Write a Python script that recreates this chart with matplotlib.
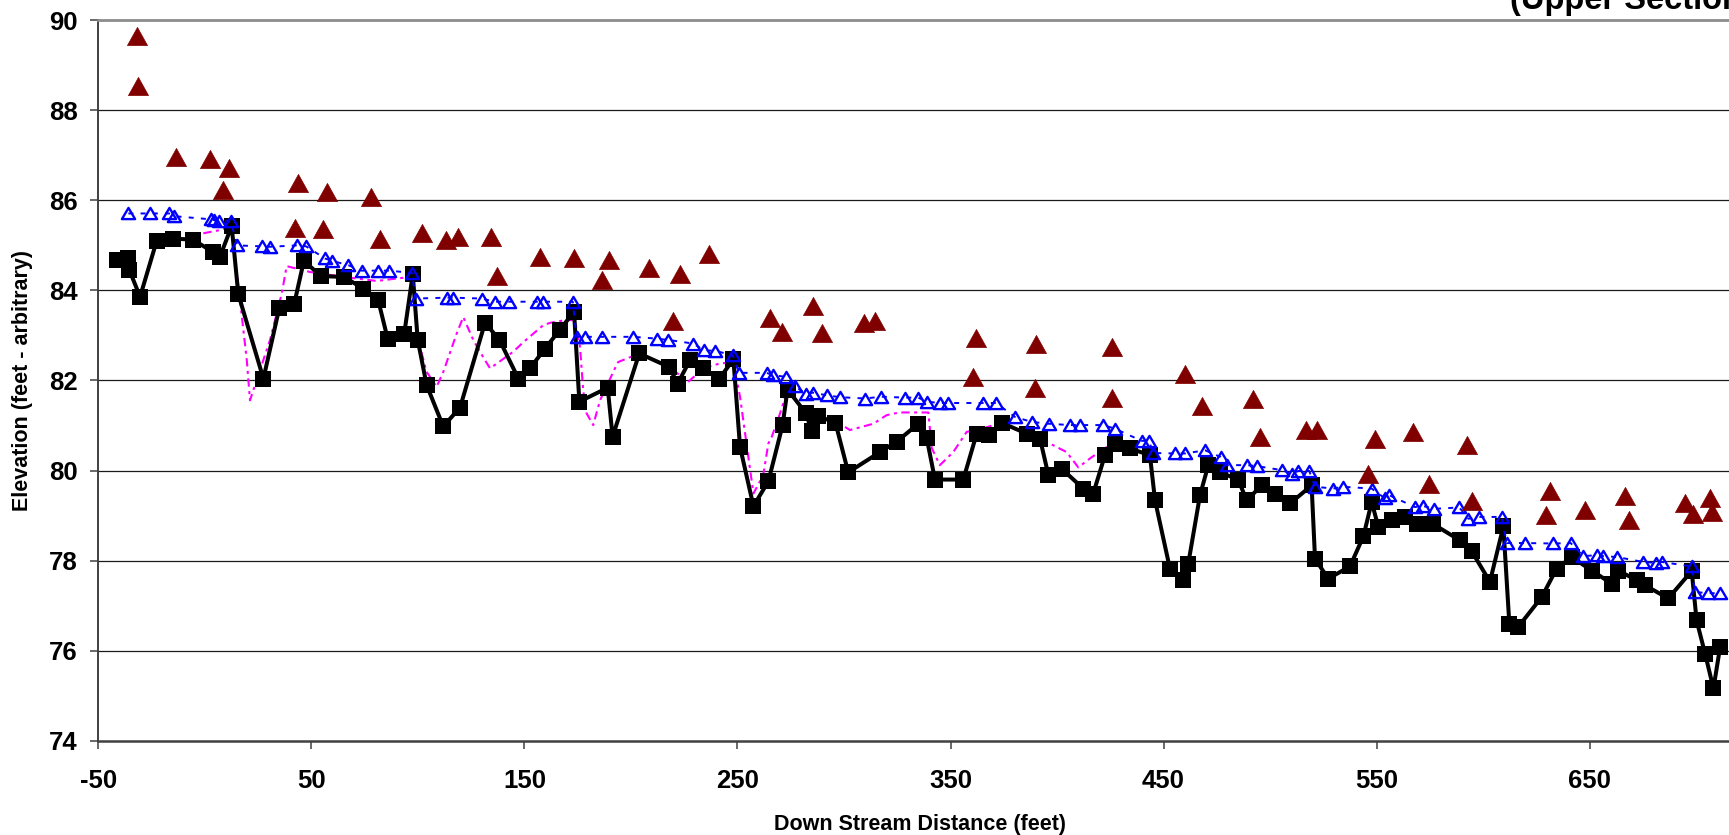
import matplotlib
matplotlib.use("Agg")
import matplotlib.pyplot as plt
from matplotlib.path import Path

plt.rcParams['font.family'] = ['Liberation Sans', 'DejaVu Sans']
plt.rcParams['font.weight'] = 'bold'
plt.rcParams['lines.scale_dashes'] = False

# ---- data ----
thalweg_x = [-41.4, -36.2, -35.4, -30.4, -22.6, -14.8, -5.7, 3.7, 7.1, 12.6, 15.7, 27.5, 35.0, 41.9,
             46.5, 54.4, 65.3, 74.4, 81.4, 85.8, 93.6, 97.6, 99.9, 104.1, 111.9, 119.8, 131.5, 138.2,
             147.2, 152.6, 159.7, 166.7, 173.3, 175.8, 189.1, 191.4, 203.9, 218.0, 221.9, 227.7, 234.0,
             241.5, 248.1, 251.2, 257.5, 264.5, 271.2, 273.5, 282.2, 284.8, 288.0, 296.0, 302.0, 316.9,
             324.7, 334.9, 338.8, 342.7, 356.0, 362.3, 368.2, 374.0, 385.8, 392.0, 395.9, 402.2, 412.3,
             417.0, 422.5, 427.2, 434.3, 443.6, 446.0, 453.0, 459.0, 461.6, 467.1, 471.0, 476.5, 485.1,
             489.0, 496.1, 502.3, 509.4, 519.5, 521.1, 527.3, 537.5, 543.8, 547.7, 550.8, 557.1, 563.3,
             568.8, 576.6, 589.1, 594.6, 603.2, 609.5, 612.3, 616.5, 627.5, 634.5, 641.6, 650.9, 660.3,
             663.5, 672.1, 676.0, 686.9, 697.9, 700.2, 704.2, 708.1, 711.2]
thalweg_y = [84.67, 84.71, 84.45, 83.86, 85.10, 85.15, 85.13, 84.86, 84.75, 85.43, 83.92, 82.04, 83.62, 83.69,
             84.66, 84.32, 84.30, 84.04, 83.78, 82.93, 83.04, 84.36, 82.91, 81.90, 80.98, 81.40, 83.28, 82.91,
             82.04, 82.27, 82.71, 83.13, 83.53, 81.53, 81.84, 80.75, 82.60, 82.30, 81.93, 82.45, 82.27,
             82.04, 82.47, 80.53, 79.21, 79.76, 81.01, 81.80, 81.27, 80.88, 81.21, 81.06, 79.96, 80.41,
             80.64, 81.04, 80.73, 79.80, 79.80, 80.82, 80.78, 81.06, 80.82, 80.71, 79.91, 80.04, 79.60,
             79.49, 80.34, 80.60, 80.49, 80.34, 79.34, 77.82, 77.58, 77.93, 79.45, 80.12, 79.97, 79.79,
             79.34, 79.67, 79.49, 79.27, 79.67, 78.04, 77.60, 77.87, 78.54, 79.30, 78.75, 78.90, 78.97,
             78.81, 78.81, 78.45, 78.21, 77.53, 78.76, 76.60, 76.53, 77.19, 77.82, 78.08, 77.78, 77.49,
             77.78, 77.56, 77.45, 77.16, 77.77, 76.67, 75.93, 75.16, 76.07]

water_x = [-35.9, -25.7, -16.7, -14.5, 2.7, 4.5, 6.5, 12.1, 15.3, 26.7, 30.6, 43.1, 47.5, 56.4, 59.5,
           67.4, 73.6, 81.4, 86.6, 97.1, 99.1, 113.5, 116.6, 129.9, 136.2, 142.9, 155.8, 158.9, 172.7,
           174.5, 178.4, 186.3, 201.1, 212.1, 217.6, 229.3, 234.3, 239.5, 247.8, 250.7, 263.7, 266.5,
           272.8, 277.0, 282.0, 285.5, 292.0, 298.1, 309.9, 317.2, 328.6, 334.9, 338.8, 345.1, 349.0,
           365.1, 371.4, 380.3, 388.1, 396.0, 406.1, 410.8, 421.7, 427.2, 439.7, 443.3, 444.9, 455.4,
           460.1, 469.5, 476.8, 479.6, 489.0, 493.7, 505.4, 510.1, 513.3, 518.4, 521.1, 529.7, 534.1,
           547.7, 554.0, 556.0, 568.0, 572.0, 577.1, 588.8, 593.1, 598.2, 608.7, 611.1, 619.7, 633.0,
           641.1, 647.0, 653.3, 656.4, 662.7, 675.2, 681.2, 683.8, 697.9, 699.4, 705.7, 711.2]
water_y = [85.71, 85.71, 85.71, 85.65, 85.58, 85.56, 85.55, 85.55, 85.00, 84.98, 84.97, 85.00, 84.98, 84.71, 84.66,
           84.56, 84.44, 84.44, 84.44, 84.39, 83.82, 83.84, 83.84, 83.82, 83.75, 83.75, 83.75, 83.75, 83.75,
           82.97, 82.97, 82.97, 82.97, 82.93, 82.90, 82.82, 82.67, 82.66, 82.56, 82.17, 82.17, 82.12,
           82.08, 81.87, 81.71, 81.73, 81.67, 81.63, 81.60, 81.64, 81.62, 81.62, 81.53, 81.50, 81.50,
           81.50, 81.50, 81.19, 81.08, 81.04, 81.01, 81.01, 81.01, 80.93, 80.66, 80.66, 80.39, 80.38,
           80.38, 80.45, 80.30, 80.12, 80.12, 80.10, 80.01, 79.93, 79.99, 79.99, 79.64, 79.60, 79.64,
           79.60, 79.38, 79.45, 79.19, 79.21, 79.15, 79.18, 78.93, 78.97, 78.97, 78.39, 78.39, 78.38,
           78.39, 78.10, 78.12, 78.10, 78.08, 77.97, 77.95, 77.97, 77.87, 77.30, 77.28, 77.27]

bank_x = [-31.7, -31.2, -13.5, 2.4, 8.7, 11.5, 42.3, 43.6, 55.3, 57.5, 78.0, 82.2, 101.8, 113.2, 119.0,
          134.2, 137.0, 157.3, 173.3, 186.3, 189.7, 208.6, 219.6, 223.0, 236.8, 265.3, 271.1, 285.6,
          289.9, 309.6, 314.6, 360.4, 361.8, 389.7, 390.1, 425.7, 426.0, 460.1, 467.9, 492.1, 495.3,
          516.9, 522.2, 546.1, 549.3, 567.2, 574.8, 592.6, 594.6, 629.5, 631.4, 647.8, 666.6, 668.6,
          694.8, 698.7, 706.5, 707.3]
bank_y = [89.65, 88.54, 86.97, 86.91, 86.23, 86.71, 85.38, 86.38, 85.36, 86.19, 86.08, 85.15, 85.27, 85.13, 85.18,
          85.18, 84.32, 84.75, 84.71, 84.24, 84.67, 84.49, 83.33, 84.36, 84.81, 83.38, 83.08, 83.66,
          83.06, 83.28, 83.33, 82.08, 82.95, 81.84, 82.80, 81.62, 82.75, 82.14, 81.43, 81.58, 80.75,
          80.91, 80.91, 79.92, 80.69, 80.86, 79.71, 80.56, 79.33, 79.01, 79.54, 79.12, 79.43, 78.91,
          79.27, 79.04, 79.38, 79.08]

prev_x = [-0.7, 7.1, 12.6, 16.5, 19.7, 21.2, 30.6, 36.1, 38.4, 49.4, 65.3, 80.7, 90.8, 97.6, 100.2, 104.0,
          108.8, 112.0, 118.2, 121.3, 126.0, 131.5, 133.9, 144.8, 149.7, 158.9, 162.0, 169.1, 173.7, 176.1,
          177.6, 179.2, 182.3, 185.5, 192.5, 194.0, 203.9, 218.0, 226.9, 234.0, 241.8, 248.1, 251.2, 257.5,
          262.1, 264.5, 266.1, 270.0, 273.5, 282.2, 296.0, 302.8, 313.8, 320.0, 326.0, 339.6, 341.2,
          345.0, 351.3, 357.6, 362.3, 374.0, 381.0, 398.3, 404.5, 410.0, 415.5, 422.5, 427.2]
prev_y = [85.27, 85.34, 85.43, 83.79, 82.45, 81.56, 82.90, 83.93, 84.54, 84.41, 84.30, 84.21, 84.27, 84.30, 82.90, 82.20,
          81.86, 82.20, 83.04, 83.41, 82.90, 82.45, 82.27, 82.64, 82.86, 83.23, 83.28, 83.34, 83.34, 82.75,
          81.78, 81.27, 81.01, 81.56, 82.27, 82.41, 82.60, 82.30, 81.97, 82.27, 82.38, 82.40, 81.64, 79.49,
          79.90, 80.60, 80.75, 81.27, 81.80, 81.30, 81.10, 80.90, 81.04, 81.23, 81.29, 81.29, 80.50,
          80.12, 80.41, 80.86, 80.90, 81.06, 80.90, 80.56, 80.41, 80.07, 80.27, 80.50, 80.60]

x_ticks = [-50, 50, 150, 250, 350, 450, 550, 650]
y_ticks = [74, 76, 78, 80, 82, 84, 86, 88, 90]

W, H = 1729, 835
fig = plt.figure(figsize=(W / 100, H / 100), dpi=100)
left_px, right_px, top_px, bottom_px = 98.3, 1742.0, 20.3, 740.7
ax = fig.add_axes([left_px / W, 1 - bottom_px / H, (right_px - left_px) / W, (bottom_px - top_px) / H])
ax.set_xlim(-50, -50 + (right_px - left_px) / 2.1305)
ax.set_ylim(74, 90)

tri_small = Path([(0, 0.85), (-1, -0.85), (1, -0.85), (0, 0.85)], closed=True)
tri_big = Path([(0, 0.9), (-1, -0.9), (1, -0.9), (0, 0.9)], closed=True)

ax.plot(prev_x, prev_y, color='#FF00FF', lw=1.5, dashes=(6, 3.2, 2.2, 3.2), zorder=2)
ax.plot(thalweg_x, thalweg_y, color='black', lw=2.9, marker='s', ms=12, mew=0, zorder=3)
ax.plot(water_x, water_y, color='#0000FF', lw=1.4, dashes=(3.6, 5.2), marker=tri_small, ms=9.5,
        mfc='none', mec='#0000FF', mew=1.7, zorder=4)
ax.plot(bank_x, bank_y, linestyle='none', marker=tri_big, ms=14.5, mfc='#800000', mec='#800000',
        mew=0.5, zorder=5)

ax.set_xticks(x_ticks)
ax.set_yticks(y_ticks)
ax.set_xticklabels([str(v) for v in x_ticks])
ax.set_yticklabels([str(v) for v in y_ticks])
ax.tick_params(axis='both', direction='out', length=6, width=1.1, color='#404040',
               labelsize=18.5, labelcolor='black')
ax.tick_params(axis='x', pad=14.5)
ax.tick_params(axis='y', pad=9)
for lab in ax.get_xticklabels() + ax.get_yticklabels():
    lab.set_fontweight('bold')

for v in y_ticks[1:-1]:
    ax.axhline(v, color='#1a1a1a', lw=0.9, zorder=1)

ax.spines['top'].set_color('#8c8c8c')
ax.spines['top'].set_linewidth(2.0)
ax.spines['right'].set_visible(False)
ax.spines['left'].set_color('#404040')
ax.spines['left'].set_linewidth(1.4)
ax.spines['bottom'].set_color('#404040')
ax.spines['bottom'].set_linewidth(1.8)

fig.text(23 / W, 1 - 380.5 / H, 'Elevation (feet - arbitrary)', rotation=90, ha='center', va='center',
         fontsize=15.5, fontweight='bold')
fig.text(((left_px + right_px) / 2) / W, 1 - 830 / H, 'Down Stream Distance (feet)', ha='center',
         va='baseline', fontsize=15.5, fontweight='bold')
fig.text(1510 / W, 1 - 9 / H, '(Upper Section)', ha='left', va='baseline', fontsize=23.5,
         fontweight='bold')

fig.savefig('out.png', dpi=100)
